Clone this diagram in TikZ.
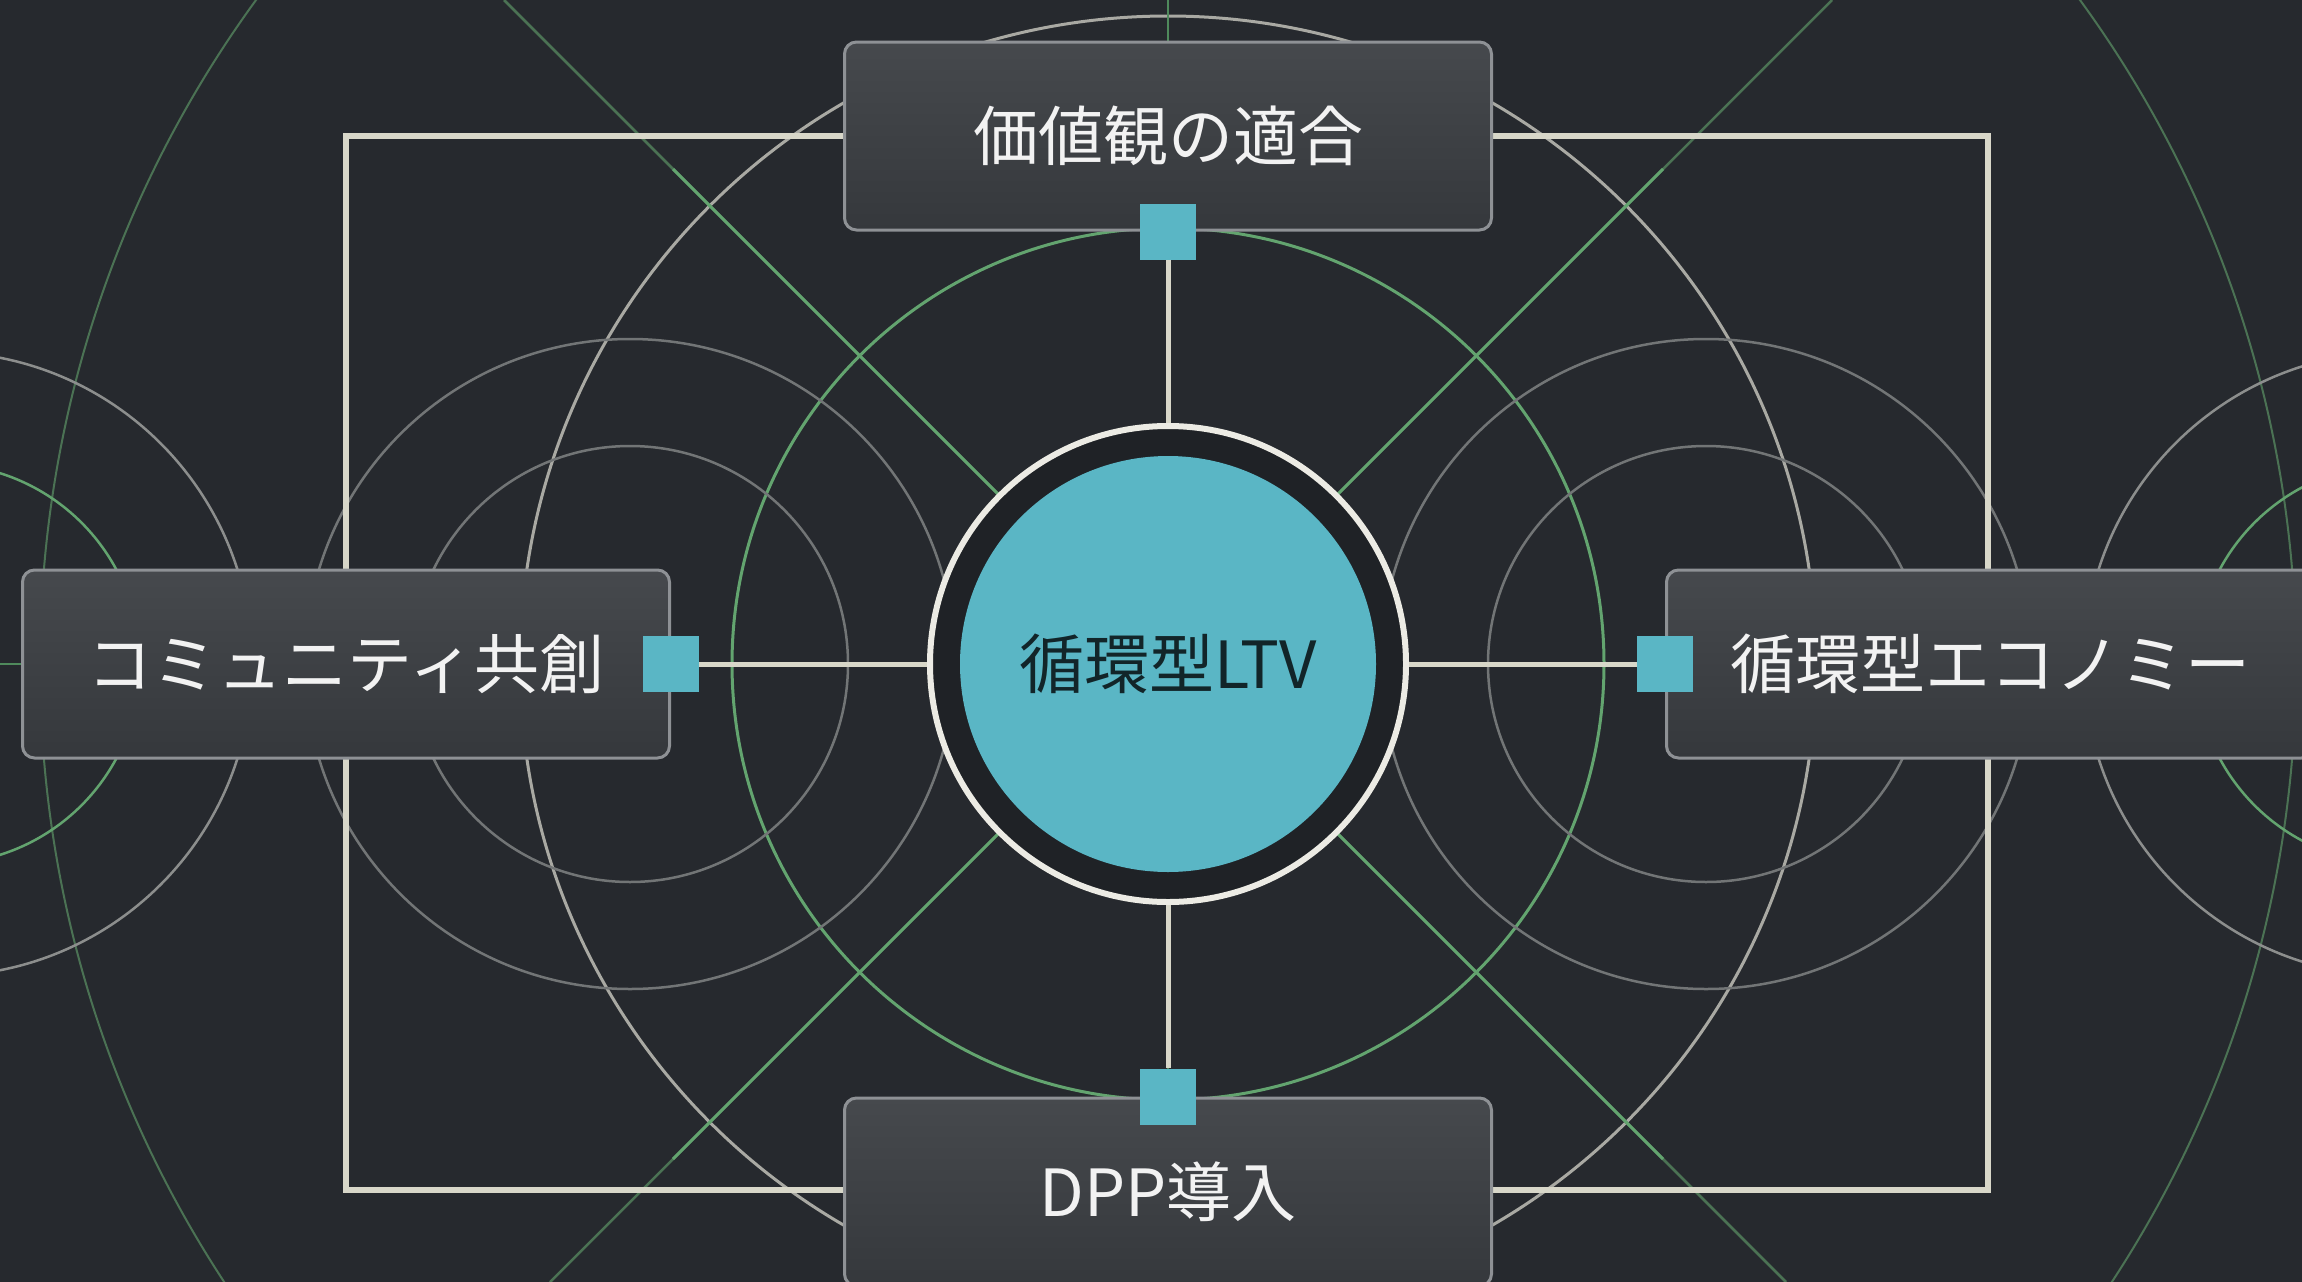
\documentclass[tikz,border=0pt]{standalone}
\usepackage{fontspec}
\setmainfont{Noto Sans CJK JP}
\definecolor{bg}{HTML}{26292E}
\definecolor{ringbg}{HTML}{1F2226}
\definecolor{cream}{HTML}{D8D7C9}
\definecolor{ringw}{HTML}{ECEBE4}
\definecolor{grayA}{HTML}{A9A9A3}
\definecolor{grayB}{HTML}{727576}
\definecolor{grayC}{HTML}{8C8E8D}
\definecolor{greenA}{HTML}{63A46F}
\definecolor{greenB}{HTML}{4B7254}
\definecolor{greenC}{HTML}{4F8A5C}
\definecolor{teal}{HTML}{5AB6C5}
\definecolor{boxtop}{HTML}{46494D}
\definecolor{boxbot}{HTML}{35383C}
\definecolor{boxline}{HTML}{8E9195}
\definecolor{txtdark}{HTML}{122529}
\begin{document}
\begin{tikzpicture}[x=1pt,y=-1pt,
  bgarc/.style={line width=2.5},
  frameline/.style={draw=cream, line width=6},
  conn/.style={draw=cream, line width=5},
  label box/.style={rectangle, rounded corners=12pt, minimum width=647pt, minimum height=188pt,
    top color=boxtop, bottom color=boxbot, draw=boxline, line width=3pt, inner sep=0pt,
    text=white!95!black, font=\fontsize{65}{70}\selectfont},
  port/.style={rectangle, fill=teal, minimum size=56pt, inner sep=0pt},
  hub/.style={circle, fill=ringbg, draw=ringw, line width=6pt, minimum size=476pt, inner sep=0pt,
    text=txtdark, font=\fontsize{65}{70}\selectfont,
    path picture={\fill[teal] (path picture bounding box.center) circle (208pt);}}
]
\useasboundingbox (0,0) rectangle (2302,1282);
\clip (0,0) rectangle (2302,1282);
\fill[bg] (0,0) rectangle (2302,1282);

% background geometry
\coordinate (o) at (1168,664);
\draw[greenB, line width=2] (o) circle (1128pt);
\draw[grayA, line width=3] (o) circle (648pt);
\draw[greenA, line width=3] (o) circle (436pt);
\draw[grayB, bgarc] (630,664) circle (218pt);
\draw[grayB, bgarc] (630,664) circle (325pt);
\draw[grayB, bgarc] (1706,664) circle (218pt);
\draw[grayB, bgarc] (1706,664) circle (325pt);
\draw[grayC, bgarc] (-60,664) circle (312pt);
\draw[greenA, bgarc] (-60,664) circle (200pt);
\draw[grayC, bgarc] (2396,664) circle (312pt);
\draw[greenA, bgarc] (2396,664) circle (200pt);
% axes and diagonals
\draw[greenC, line width=2.5] (1168,0) -- (1168,1282);
\draw[greenC, line width=2.5] (0,664) -- (2302,664);
\draw[greenB, line width=2.5] (504,0) -- (1786,1282);
\draw[greenB, line width=2.5] (1832,0) -- (550,1282);
\draw[greenA, line width=3] (673,169) -- (1663,1159);
\draw[greenA, line width=3] (1663,169) -- (673,1159);

% frame through box centres
\coordinate (pT) at (1168,136);
\coordinate (pL) at (346,664);
\coordinate (pR) at (1988,664);
\coordinate (pB) at (1168,1190);
\draw[frameline] (pL) |- (pT) -| (pR) |- (pB) -| cycle;

% boxes
\node[label box] (top) at (pT) {価値観の適合};
\node[label box] (left) at (pL) {コミュニティ共創};
\node[label box] (right) at (1990,664) {循環型エコノミー};
\node[label box] (bot) at (1168,1192) {DPP導入};

% hub
\node[hub] (c) at (o) {循環型LTV};

% ports
\node[port] (sqT) at (top.south) {};
\node[port] (sqB) at (bot.north) {};
\node[port] (sqL) at (left.east) {};
\node[port] (sqR) at (right.west) {};

% connectors
\draw[conn] (sqT) -- (c);
\draw[conn] (sqB) -- (c);
\draw[conn] (sqL) -- (c);
\draw[conn] (sqR) -- (c);
\end{tikzpicture}
\end{document}
